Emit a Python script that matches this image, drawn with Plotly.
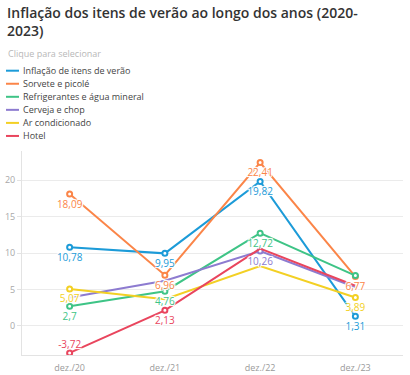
import plotly.graph_objects as go

# ---------------- data ----------------
categories = ["dez./20", "dez./21", "dez./22", "dez./23"]

series_names = [
    "Inflação de itens de verão",
    "Sorvete e picolé",
    "Refrigerantes e água mineral",
    "Cerveja e chop",
    "Ar condicionado",
    "Hotel",
]
inflacao = [10.78, 9.95, 19.82, 1.31]
sorvete = [18.09, 6.96, 22.41, 6.77]
refrigerantes = [2.70, 4.76, 12.72, 6.90]
cerveja = [3.90, 6.20, 10.26, 5.30]
ar_condicionado = [5.07, 3.65, 8.20, 3.89]
hotel = [-3.72, 2.13, 10.60, 5.50]
series_values = [inflacao, sorvete, refrigerantes, cerveja, ar_condicionado, hotel]

colors = ["#1c9bd8", "#fb8548", "#3ec486", "#8d7bd0", "#f3d024", "#e9455d"]

# which labels / markers are visible (the original hides overlapping ones)
label_show = [
    [1, 1, 1, 1],
    [1, 1, 1, 1],
    [1, 1, 1, 0],
    [0, 0, 1, 0],
    [1, 0, 0, 1],
    [1, 1, 0, 0],
]
marker_show = [
    [1, 1, 1, 1],
    [1, 1, 1, 1],
    [1, 1, 1, 1],
    [0, 0, 1, 0],
    [1, 0, 0, 1],
    [1, 1, 0, 0],
]
label_pos = [
    ["bottom center"] * 4,
    ["bottom center"] * 4,
    ["bottom center"] * 4,
    ["bottom center"] * 4,
    ["bottom center"] * 4,
    ["top center", "bottom center", "bottom center", "bottom center"],
]

title_text = "Inflação dos itens de verão ao longo dos anos (2020-<br>2023)"
subtitle_text = "Clique para selecionar"
y_ticks = [0, 5, 10, 15, 20]

FONT = "Open Sans, Noto Sans, sans-serif"
W, H = 410, 375
ML, MR, MT, MB = 22, 7, 151, 20
PW, PH = W - ML - MR, H - MT - MB


def fmt(v):
    return f"{v:g}".replace(".", ",")


def px_x(px):
    return (px - ML) / PW


def px_y(py):
    return (H - MB - py) / PH


fig = go.Figure()

# lines + markers
for name, vals, col, ms in zip(series_names, series_values, colors, marker_show):
    fig.add_trace(go.Scatter(
        x=categories, y=vals, name=name, mode="lines+markers",
        line=dict(color=col, width=2),
        marker=dict(symbol="circle", size=5, color="white",
                    line=dict(color=col, width=2), opacity=ms),
        hovertemplate="%{y}<extra>" + name + "</extra>",
        showlegend=False,
    ))

# labels on top of all lines
halo = ("1px 1px 0 #fff, -1px -1px 0 #fff, 1px -1px 0 #fff, -1px 1px 0 #fff, "
        "0 0 3px #fff, 0 0 3px #fff")
for name, vals, col, ls, lp in zip(series_names, series_values, colors, label_show, label_pos):
    fig.add_trace(go.Scatter(
        x=categories, y=vals, mode="markers+text",
        text=[fmt(v) if s else "" for v, s in zip(vals, ls)],
        textposition=lp,
        textfont=dict(family=FONT, size=10, color=col, shadow=halo),
        marker=dict(size=[8 if p.startswith("bottom") else 2 for p in lp], opacity=0),
        hoverinfo="skip", showlegend=False,
    ))

# custom compact legend
legend_y0 = 70.7
legend_step = 13.05
for i, (name, col) in enumerate(zip(series_names, colors)):
    yc = legend_y0 + i * legend_step
    fig.add_shape(type="line", xref="paper", yref="paper",
                  x0=px_x(6), x1=px_x(19), y0=px_y(yc), y1=px_y(yc),
                  line=dict(color=col, width=2))
    fig.add_annotation(xref="paper", yref="paper", x=px_x(20.5), y=px_y(yc),
                       xanchor="left", yanchor="middle", showarrow=False,
                       text=name, font=dict(family=FONT, size=9, color="#444"))

fig.add_annotation(xref="paper", yref="paper", x=px_x(6), y=px_y(54),
                   xanchor="left", yanchor="middle", showarrow=False,
                   text=subtitle_text, font=dict(family=FONT, size=9, color="#b8b8b8"))

# title
fig.add_annotation(xref="paper", yref="paper", x=px_x(5), y=px_y(1),
                   xanchor="left", yanchor="top", align="left", showarrow=False,
                   text=title_text,
                   font=dict(family=FONT, size=14, color="#333", weight=600))

fig.update_layout(
    width=W, height=H,
    margin=dict(l=ML, r=MR, t=MT, b=MB, pad=0, autoexpand=False),
    paper_bgcolor="white", plot_bgcolor="white",
    font=dict(family=FONT),
    showlegend=False,
    xaxis=dict(type="category", range=[-0.5, 3.5], showgrid=False,
               showline=True, linecolor="#e3e3e3", linewidth=1,
               ticks="", tickfont=dict(family=FONT, size=9, color="#9a9a9a"),
               ticklabelstandoff=4, automargin=False,
               zeroline=False, fixedrange=True),
    yaxis=dict(range=[-4, 24], tickvals=y_ticks, showgrid=True,
               gridcolor="#ebebeb", gridwidth=1, zeroline=False,
               showline=True, linecolor="#e3e3e3", linewidth=1,
               ticks="outside", ticklen=4, tickcolor="#e3e3e3",
               tickfont=dict(family=FONT, size=9, color="#a8a8a8"),
               automargin=False, fixedrange=True),
)

fig.write_html("out.html",
               config={"displayModeBar": False},
               post_script="document.body.style.margin='0';document.body.style.overflow='hidden';")
